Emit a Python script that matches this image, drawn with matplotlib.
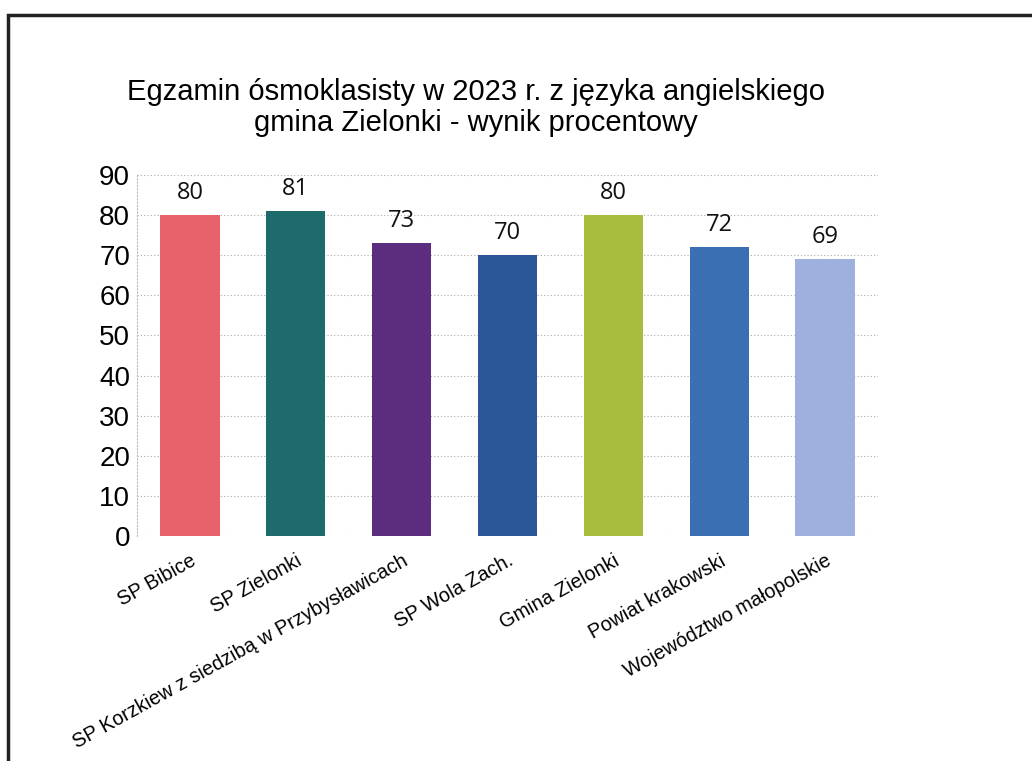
import matplotlib
matplotlib.use("Agg")
import matplotlib.pyplot as plt
from matplotlib.patches import Rectangle

# data
categories = ["SP Bibice", "SP Zielonki", "SP Korzkiew z siedzibą w Przybysławicach",
              "SP Wola Zach.", "Gmina Zielonki", "Powiat krakowski",
              "Województwo małopolskie"]
values = [80, 81, 73, 70, 80, 72, 69]
colors = ["#E8626C", "#1D6B6C", "#5C2C7E", "#2B5697", "#A8BC3E", "#3A6FB4", "#9DB0DE"]

fig = plt.figure(figsize=(10.32, 7.61), dpi=100)
ax = fig.add_axes([0.1328, 0.2957, 0.718, 0.4744])

x = range(len(categories))
ax.bar(x, values, width=0.56, color=colors, zorder=2)
for i, v in enumerate(values):
    ax.text(i, v + 2.6, str(v), ha="center", va="bottom", fontsize=17,
            family="Open Sans", color="#111111")

ax.set_xlim(-0.5, len(categories) - 0.5)
ax.set_ylim(0, 90)
ax.set_yticks(range(0, 91, 10))
ax.tick_params(axis="y", length=0, labelsize=20, pad=5)
ax.tick_params(axis="x", length=0, pad=11)
for t in ax.get_yticklabels():
    t.set_family("Liberation Sans")
ax.set_xticks(list(x))
ax.set_xticklabels(categories, rotation=29, ha="right", rotation_mode="anchor",
                   fontsize=14.3, family="Liberation Sans")
ax.grid(axis="y", color="#aaaaaa", linestyle=(0, (1, 2)), linewidth=0.8, zorder=0)
for s in ax.spines.values():
    s.set_visible(False)
ax.spines["left"].set_visible(True)
ax.spines["left"].set_color("#bbbbbb")
ax.spines["left"].set_linestyle((0, (1, 2)))
ax.spines["left"].set_linewidth(0.8)

fig.text(0.461, 0.879, "Egzamin ósmoklasisty w 2023 r. z języka angielskiego",
         ha="center", va="center", fontsize=21, family="Liberation Sans")
fig.text(0.461, 0.838, "gmina Zielonki - wynik procentowy",
         ha="center", va="center", fontsize=21, family="Liberation Sans")

# scanned page frame
fig.add_artist(Rectangle((0.008, -0.05), 1.2, 1.03, transform=fig.transFigure,
                         fill=False, edgecolor="#222222", linewidth=2.5))

fig.savefig("out.png", dpi=100)
